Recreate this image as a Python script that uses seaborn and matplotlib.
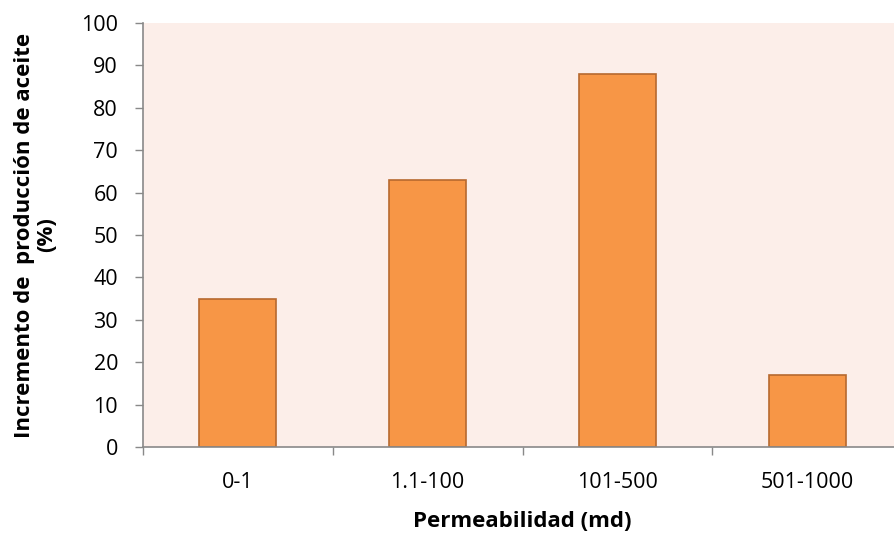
import matplotlib
matplotlib.use("Agg")
import matplotlib.pyplot as plt
import seaborn as sns
import pandas as pd
import numpy as np

categories = ["0-1", "1.1-100", "101-500", "501-1000"]
values = [35, 63, 88, 17]

sns.set_theme(style="white")
plt.rcParams['font.family'] = ['Open Sans', 'DejaVu Sans']

df = pd.DataFrame({"Permeabilidad": categories, "Incremento": values})

fig = plt.figure(figsize=(8.94, 5.33), dpi=100)
ax = fig.add_axes([0.16, 0.161, 0.849, 0.796])
ax.set_facecolor("#FCEEE9")

sns.barplot(data=df, x="Permeabilidad", y="Incremento", ax=ax, color="#F79646",
            saturation=1, width=0.405, edgecolor="#B7692F", linewidth=1.2)

ax.set_ylim(0, 100)
ax.set_xlim(-0.5, 3.5)
ax.set_yticks(np.arange(0, 101, 10))
ax.tick_params(axis="y", labelsize=15.5, labelcolor="black", length=6, width=1, color="#898989", direction="out", left=True, pad=12)
ax.tick_params(axis="x", which="major", labelsize=15.5, labelcolor="black", length=0, pad=18)
ax.set_xticks(np.arange(-0.5, 3.6, 1), minor=True)
ax.tick_params(axis="x", which="minor", length=6, width=1, color="#898989", direction="out", bottom=True)

for s in ["top", "right"]:
    ax.spines[s].set_visible(False)
for s in ["left", "bottom"]:
    ax.spines[s].set_color("#898989")
    ax.spines[s].set_linewidth(1.2)

ax.set_xlabel("Permeabilidad (md)", fontsize=16, fontweight="bold", color="black", labelpad=13)
ax.set_ylabel("Incremento de  producción de aceite\n(%)", fontsize=16, fontweight="bold", color="black", labelpad=17, linespacing=1.1)
ax.grid(False)

fig.savefig("out.png", dpi=100)
